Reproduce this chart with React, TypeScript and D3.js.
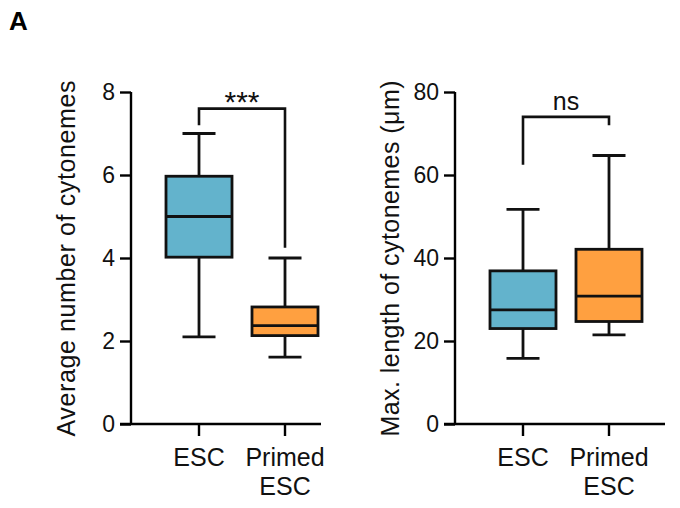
import * as d3 from 'd3';
import { useEffect, useRef } from 'react';

const groups = ['ESC', 'Primed ESC'];
const colors = ['#63b3cc', '#ffa040'];

// [min, q1, median, q3, max]
const countStats = [
  [2.1, 4.02, 5.0, 5.97, 7.0],
  [1.61, 2.13, 2.37, 2.82, 4.0],
];
const lengthStats = [
  [15.8, 23.0, 27.5, 36.9, 51.7],
  [21.5, 24.7, 30.8, 42.1, 64.7],
];
const countTicks = [0, 2, 4, 6, 8];
const lengthTicks = [0, 20, 40, 60, 80];

const FONT = 'Liberation Sans, Arial, sans-serif';

function drawPanel(svg, opts) {
  const { left, axisEnd, yMax, ticks, stats, title, sig, bracket } = opts;
  const top = 92;
  const bottom = 424;
  const g = svg.append('g');

  // step 86, bandwidth 66
  const x = d3.scaleBand().domain(groups).range([left, left + 222]).paddingInner(20 / 86).paddingOuter(35 / 86);
  const y = d3.scaleLinear().domain([0, yMax]).range([bottom, top]);

  const yAxis = d3.axisLeft(y).tickValues(ticks).tickSize(11).tickPadding(5);
  const ya = g.append('g').attr('transform', `translate(${left},0)`).call(yAxis);
  ya.select('.domain').attr('stroke-width', 2.4).attr('d', `M0,${top}V${bottom}`);
  ya.selectAll('line').attr('stroke-width', 2.4);
  ya.selectAll('text').attr('font-size', 23).attr('font-family', FONT).attr('fill', '#111');

  const xAxis = d3.axisBottom(x).tickSize(12).tickFormat(() => '');
  const xa = g.append('g').attr('transform', `translate(0,${bottom})`).call(xAxis);
  xa.select('.domain').attr('stroke-width', 2.4).attr('d', `M${left - 11},0H${axisEnd}`);
  xa.selectAll('line').attr('stroke-width', 2.4);

  groups.forEach((name) => {
    const cx = x(name) + x.bandwidth() / 2;
    const t = g.append('text')
      .attr('x', cx)
      .attr('y', 466)
      .attr('text-anchor', 'middle')
      .attr('font-size', 25)
      .attr('font-family', FONT)
      .attr('fill', '#111');
    name.split(' ').forEach((w, j) => t.append('tspan').attr('x', cx).attr('dy', j === 0 ? 0 : 29).text(w));
  });

  g.append('text')
    .attr('transform', `translate(${left - 56},${258.5}) rotate(-90)`)
    .attr('text-anchor', 'middle')
    .attr('font-size', 25)
    .attr('font-family', FONT)
    .attr('fill', '#111')
    .attr('textLength', 356)
    .attr('lengthAdjust', 'spacing')
    .text(title);

  stats.forEach((s, i) => {
    const cx = x(groups[i]) + x.bandwidth() / 2;
    const bw = x.bandwidth();
    const cap = bw / 2;
    const [mn, q1, md, q3, mx] = s;
    const box = g.append('g').attr('stroke', '#111').attr('stroke-width', 2.8);
    box.append('line').attr('x1', cx).attr('x2', cx).attr('y1', y(mx)).attr('y2', y(q3));
    box.append('line').attr('x1', cx).attr('x2', cx).attr('y1', y(q1)).attr('y2', y(mn));
    box.append('line').attr('x1', cx - cap / 2).attr('x2', cx + cap / 2).attr('y1', y(mx)).attr('y2', y(mx));
    box.append('line').attr('x1', cx - cap / 2).attr('x2', cx + cap / 2).attr('y1', y(mn)).attr('y2', y(mn));
    box.append('rect')
      .attr('x', cx - bw / 2).attr('y', y(q3))
      .attr('width', bw).attr('height', y(q1) - y(q3))
      .attr('fill', colors[i]);
    box.append('line').attr('x1', cx - bw / 2).attr('x2', cx + bw / 2).attr('y1', y(md)).attr('y2', y(md));
  });

  // significance bracket
  const x1 = x(groups[0]) + x.bandwidth() / 2;
  const x2 = x(groups[1]) + x.bandwidth() / 2;
  const [yl, yt, yr] = bracket.map(v => y(v));
  g.append('path')
    .attr('d', `M${x1},${yl}V${yt}H${x2}V${yr}`)
    .attr('fill', 'none').attr('stroke', '#111').attr('stroke-width', 2.6);
  const stars = sig !== 'ns';
  g.append('text')
    .attr('x', (x1 + x2) / 2)
    .attr('y', stars ? yt + 3 : yt - 7)
    .attr('text-anchor', 'middle')
    .attr('font-size', stars ? 30 : 25)
    .attr('font-family', FONT)
    .attr('fill', '#111')
    .text(sig);
}

export default function App() {
  const svgRef = useRef(null);

  useEffect(() => {
    const svg = d3.select(svgRef.current);
    svg.selectAll('*').remove();
    svg.append('rect').attr('width', 680).attr('height', 508).attr('fill', '#fff');
    svg.append('text')
      .attr('x', 9).attr('y', 30)
      .attr('font-size', 26).attr('font-weight', 'bold')
      .attr('font-family', FONT)
      .text('A');
    drawPanel(svg, {
      left: 131, axisEnd: 321, yMax: 8, ticks: countTicks, stats: countStats,
      title: 'Average number of cytonemes', sig: '***', bracket: [7.2, 7.6, 4.25],
    });
    drawPanel(svg, {
      left: 455, axisEnd: 665, yMax: 80, ticks: lengthTicks, stats: lengthStats,
      title: 'Max. length of cytonemes (μm)', sig: 'ns', bracket: [62.5, 74, 72],
    });
  }, []);

  return (
    <svg ref={svgRef} width={680} height={508} style={{ position: 'absolute', left: 0, top: 0 }} />
  );
}
